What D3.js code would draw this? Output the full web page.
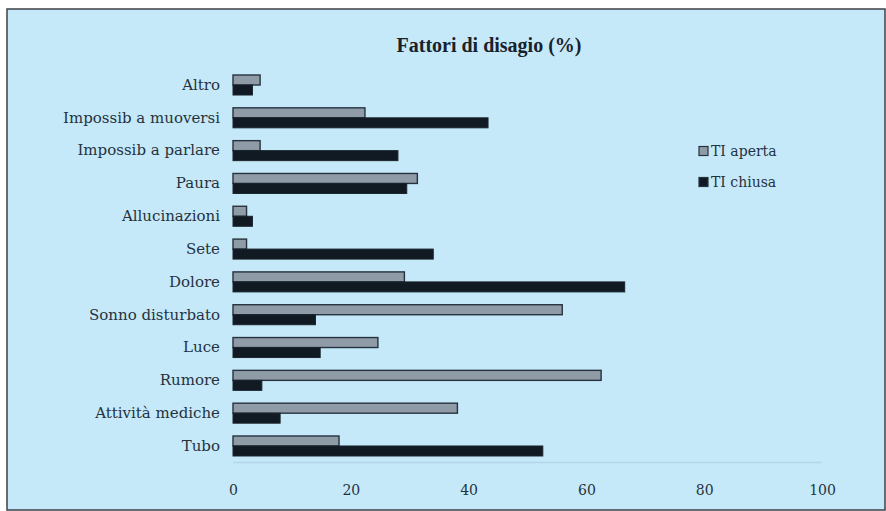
<!DOCTYPE html>
<html>
<head>
<meta charset="utf-8">
<script src="https://cdn.jsdelivr.net/npm/d3@7/dist/d3.min.js"></script>
<style>
  html, body { margin: 0; padding: 0; background: #ffffff; }
  svg { display: block; }
</style>
</head>
<body>
<svg id="chart" width="886" height="511"></svg>
<script>
// Categories, top to bottom
const categories = [
  "Altro", "Impossib a muoversi", "Impossib a parlare", "Paura",
  "Allucinazioni", "Sete", "Dolore", "Sonno disturbato",
  "Luce", "Rumore", "Attività mediche", "Tubo"
];
// Percentages per series
const tiAperta = [4.6, 22.4, 4.6, 31.3, 2.3, 2.3, 29.1, 55.9, 24.6, 62.5, 38.1, 18.0];
const tiChiusa = [3.3, 43.3, 28.0, 29.5, 3.3, 34.0, 66.5, 14.0, 14.8, 4.9, 8.0, 52.6];
const seriesNames = ["TI aperta", "TI chiusa"];
const xTicks = [0, 20, 40, 60, 80, 100];
const title = "Fattori di disagio (%)";

const W = 886, H = 511;
const svg = d3.select("#chart");

// Panel background and frame
svg.append("rect")
  .attr("x", 7).attr("y", 9).attr("width", W - 7 - 1).attr("height", H - 9 - 1)
  .attr("fill", "#c6e9f9").attr("stroke", "#3c4248").attr("stroke-width", 1.5);

const x = d3.scaleLinear().domain([0, 100]).range([233, 822]);
const y = d3.scaleBand().domain(categories).range([68.6, 462.4]).paddingInner(0).paddingOuter(0);
const barH = 10;

const textColor = "#24323f";

// Title
svg.append("text")
  .attr("x", 489).attr("y", 52)
  .attr("text-anchor", "middle")
  .attr("font-family", "'Liberation Serif', serif")
  .attr("font-weight", "bold")
  .attr("font-size", 20)
  .attr("fill", "#18222c")
  .text(title);

// Horizontal axis line
svg.append("line")
  .attr("x1", x(0)).attr("x2", x(100))
  .attr("y1", 462.5).attr("y2", 462.5)
  .attr("stroke", "#b3d7ea").attr("stroke-width", 1.5);

const xAxis = d3.axisBottom(x).tickValues(xTicks).tickSize(0).tickPadding(0).tickFormat(d3.format("d"));
const gx = svg.append("g").attr("transform", "translate(0,482)").call(xAxis);
gx.select(".domain").remove();
gx.selectAll(".tick text")
  .attr("dy", 0).attr("y", 13)
  .attr("font-family", "'DejaVu Serif', serif")
  .attr("font-size", 14)
  .attr("fill", textColor);

// Category labels
const yAxis = d3.axisLeft(y).tickSize(0).tickPadding(0);
const gy = svg.append("g").attr("transform", "translate(220,0)").call(yAxis);
gy.select(".domain").remove();
gy.selectAll(".tick text")
  .attr("font-family", "'DejaVu Serif', serif")
  .attr("font-size", 15)
  .attr("fill", textColor);

// Bars
const rows = categories.map((c, i) => ({ c, a: tiAperta[i], b: tiChiusa[i] }));
const center = c => y(c) + y.bandwidth() / 2;

svg.append("g").selectAll("rect").data(rows).join("rect")
  .attr("x", x(0))
  .attr("y", d => center(d.c) - barH)
  .attr("width", d => x(d.a) - x(0))
  .attr("height", barH)
  .attr("fill", "#8f9ca8")
  .attr("stroke", "#26333f").attr("stroke-width", 1.4);

svg.append("g").selectAll("rect").data(rows).join("rect")
  .attr("x", x(0))
  .attr("y", d => center(d.c))
  .attr("width", d => x(d.b) - x(0))
  .attr("height", barH)
  .attr("fill", "#111a22")
  .attr("stroke", "#1a242d").attr("stroke-width", 1);

// Legend
const legend = svg.append("g");
const legendFill = ["#8f9ca8", "#111a22"];
const legendY = [151, 182];
seriesNames.forEach((name, i) => {
  legend.append("rect")
    .attr("x", 699).attr("y", legendY[i] - 4.5)
    .attr("width", 9).attr("height", 9)
    .attr("fill", legendFill[i])
    .attr("stroke", "#26333f").attr("stroke-width", 1.2);
  legend.append("text")
    .attr("x", 711).attr("y", legendY[i] + 5)
    .attr("font-family", "'DejaVu Serif', serif")
    .attr("font-size", 14)
    .attr("fill", textColor)
    .text(name);
});
</script>
</body>
</html>
